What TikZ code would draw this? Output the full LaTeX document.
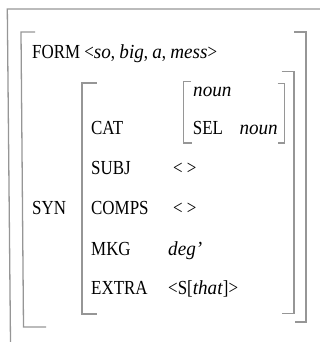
\documentclass[tikz,border=0pt]{standalone}
\usepackage{fontspec}
\setmainfont[FakeStretch=0.85,ItalicFeatures={FakeStretch=0.96}]{Liberation Serif}
\begin{document}
\begin{tikzpicture}[x=1bp,y=-1bp,
  rule/.style={draw={rgb,255:red,150;green,150;blue,150},line width=1.3bp},
  lbl/.style={anchor=base west,inner sep=0pt,font=\fontsize{20}{23}\selectfont}]
\useasboundingbox (0,0) rectangle (320,342);
% outer frame
\draw[rule] (320,9) -- (7.3,9) -- (10.5,342);
% FORM-level brackets
\draw[rule] (35,32) -- (21,32) -- (23.5,327) -- (46,327);
\draw[rule] (294,32) -- (306,32) -- (306,322) -- (295,322);
% SYN brackets
\draw[rule] (96.7,83) -- (82,83) -- (82,314) -- (96.7,314);
\draw[rule] (281.5,71.5) -- (294,71.5) -- (294,313.5) -- (282,313.5);
% CAT brackets
\draw[rule] (191,81.5) -- (183.5,81.5) -- (183.5,143) -- (191.5,143);
\draw[rule] (277.5,83.5) -- (284.5,83.5) -- (284.5,143) -- (277.5,143);
% labels
\node[lbl] (form) at (32,58) {FORM <\textit{so}, \textit{big}, \textit{a}, \textit{mess}>};
\node[lbl] (syn) at (32,214) {SYN};
\node[lbl] (cat) at (91,134) {CAT};
\node[lbl] (subj) at (91,174) {SUBJ};
\node[lbl] (comps) at (91,214) {COMPS};
\node[lbl] (mkg) at (91,255) {MKG};
\node[lbl] (extra) at (91,294) {EXTRA};
\node[lbl] (nounA) at (193,96) {\textit{noun}};
\node[lbl] (sel) at (192.7,134) {SEL};
\node[lbl] (nounB) at (239.3,134) {\textit{noun}};
\node[lbl] (subjv) at (173,174) {< >};
\node[lbl] (compsv) at (173,214) {< >};
\node[lbl] (mkgv) at (168,255) {\textit{deg’}};
\node[lbl] (extrav) at (168,294) {<S[\textit{that}]>};
\end{tikzpicture}
\end{document}
